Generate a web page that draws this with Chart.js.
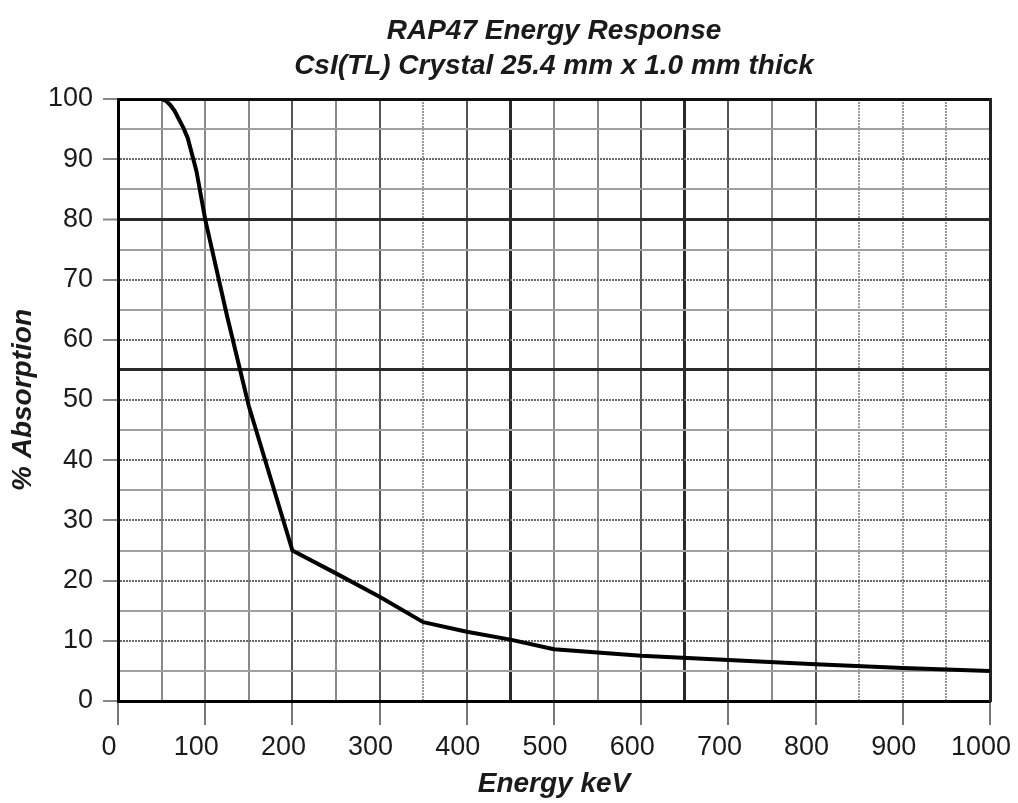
<!DOCTYPE html>
<html>
<head>
<meta charset="utf-8">
<script src="https://cdn.jsdelivr.net/npm/chart.js@4/dist/chart.umd.min.js"></script>
<style>
  html, body { margin: 0; padding: 0; background: #fff; }
  #wrap { width: 1018px; height: 803px; }
</style>
</head>
<body>
<div id="wrap"><canvas id="c" width="1018" height="803"></canvas></div>
<script>
// curve
const energyKeV = [0, 50, 55, 60, 65, 70, 75, 80, 90, 100, 125, 150, 175, 200, 250, 300, 350, 400, 450, 500, 600, 700, 800, 900, 1000];
const absorption = [100, 100, 99.7, 99.0, 98.0, 96.6, 95.2, 93.5, 88, 80, 64, 49, 37, 25, 21.2, 17.3, 13.1, 11.5, 10.2, 8.6, 7.5, 6.8, 6.1, 5.5, 5.0];

const titleLines = ['RAP47 Energy Response', 'CsI(TL) Crystal 25.4 mm x 1.0 mm thick'];
const xTitle = 'Energy keV';
const yTitle = '% Absorption';

// grid shading (scan looks uneven)
const xDark = [450, 650];
const xMid = [200, 300, 400, 600, 700, 800];
const xDashed = [350, 850, 900, 950];
const yDark = [55, 80];

const FONT = '"Liberation Sans", Arial, sans-serif';
const INK = '#1a1a1a';

function xGridColor(ctx) {
  const v = ctx.tick ? ctx.tick.value : -1;
  if (xDark.includes(v)) return '#2a2a2a';
  if (xMid.includes(v)) return '#555';
  if (xDashed.includes(v)) return '#9a9a9a';
  return '#8a8a8a';
}
function yGridColor(ctx) {
  const v = ctx.tick ? ctx.tick.value : -1;
  if (yDark.includes(v)) return '#2a2a2a';
  if (v % 10 === 0) return '#6a6a6a';
  return '#a0a0a0';
}

const points = energyKeV.map((e, i) => ({ x: e, y: absorption[i] }));

new Chart(document.getElementById('c'), {
  type: 'line',
  data: {
    datasets: [{
      data: points,
      borderColor: '#000',
      borderWidth: 4,
      pointRadius: 0,
      tension: 0,
      borderJoinStyle: 'round',
      fill: false
    }]
  },
  options: {
    responsive: false,
    animation: false,
    devicePixelRatio: 1,
    layout: { padding: 0 },
    plugins: {
      legend: { display: false },
      tooltip: { enabled: false },
      title: {
        display: true,
        fullSize: false,
        text: titleLines,
        color: INK,
        font: { family: FONT, size: 28, weight: 'bold', style: 'italic', lineHeight: 1.25 },
        padding: { top: 14, bottom: 0 }
      }
    },
    scales: {
      x: {
        type: 'linear',
        position: 'bottom',
        min: 0, max: 1000,
        afterFit: s => { s.height = 102; s.paddingLeft = 0; s.paddingRight = 0; },
        ticks: {
          stepSize: 50,
          autoSkip: false,
          maxRotation: 0,
          color: INK,
          padding: 6,
          labelOffset: -9,
          font: { family: FONT, size: 27 },
          callback: v => (v % 100 === 0 ? String(v) : '')
        },
        grid: {
          color: xGridColor,
          lineWidth: c => (c.tick && xDark.includes(c.tick.value) ? 3 : 2),
          tickLength: 24,
          tickColor: c => (c.tick && c.tick.value % 100 === 0 ? '#777' : 'rgba(0,0,0,0)'),
          tickWidth: 2
        },
        border: {
          color: '#000', width: 3,
          dash: c => (c.tick && xDashed.includes(c.tick.value) ? [2, 1] : [])
        },
        title: {
          display: true,
          text: xTitle,
          color: INK,
          font: { family: FONT, size: 28, weight: 'bold', style: 'italic' },
          padding: { top: 0, bottom: 2 }
        }
      },
      y: {
        type: 'linear',
        position: 'left',
        min: 0, max: 100,
        afterFit: s => { s.width = 118; s.paddingTop = 0; s.paddingBottom = 0; },
        ticks: {
          stepSize: 5,
          autoSkip: false,
          color: INK,
          padding: 10,
          font: { family: FONT, size: 27 },
          callback: v => (v % 10 === 0 ? String(v) : '')
        },
        grid: {
          color: yGridColor,
          lineWidth: c => (c.tick && yDark.includes(c.tick.value) ? 3 : 2),
          tickLength: 15,
          tickColor: c => (c.tick && c.tick.value % 10 === 0 ? '#888' : 'rgba(0,0,0,0)'),
          tickWidth: 2
        },
        border: {
          color: '#000', width: 3,
          dash: c => (c.tick && c.tick.value % 10 === 0 && !yDark.includes(c.tick.value) ? [2, 1] : [])
        },
        title: {
          display: true,
          text: yTitle,
          color: INK,
          font: { family: FONT, size: 28, weight: 'bold', style: 'italic' },
          padding: { top: 6, bottom: 0 }
        }
      },
      xTop: {
        type: 'linear',
        position: 'top',
        min: 0, max: 1000,
        afterFit: s => { s.height = 15; },
        ticks: { display: false },
        grid: { display: false, drawTicks: false },
        border: { color: '#111', width: 3, dash: [7, 3] }
      },
      yRight: {
        type: 'linear',
        position: 'right',
        min: 0, max: 100,
        afterFit: s => { s.width = 28; },
        ticks: { display: false },
        grid: { display: false, drawTicks: false },
        border: { color: '#222', width: 3, dash: [2, 2] }
      }
    }
  }
});
</script>
</body>
</html>
